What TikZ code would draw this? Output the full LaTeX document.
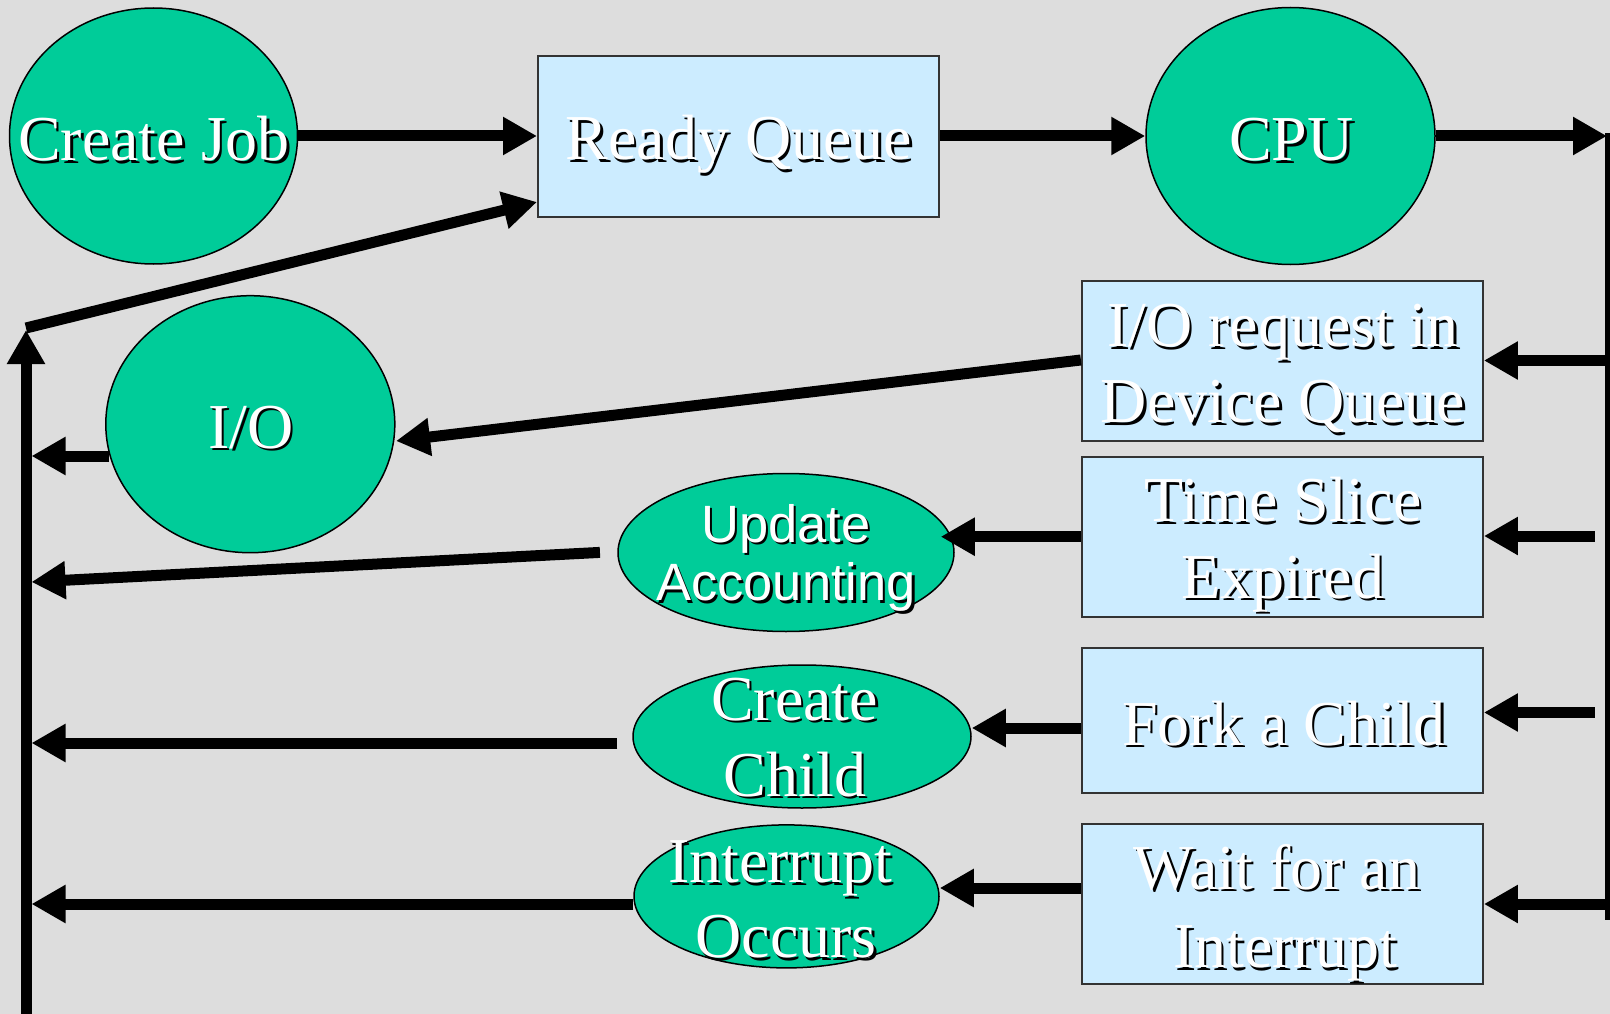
\documentclass[tikz,border=0pt]{standalone}
\usepackage{fontspec}
\setmainfont{Liberation Serif}
\newfontfamily\arialf{Liberation Sans}
\usetikzlibrary{arrows.meta,shapes.geometric,calc}
\definecolor{bgc}{HTML}{DDDDDD}
\definecolor{ovalc}{HTML}{00CC99}
\definecolor{boxc}{HTML}{CCECFF}
\definecolor{edgec}{HTML}{333333}
\newcommand\shtxt[1]{\rlap{\kern2.5pt\raisebox{-2.5pt}{\textcolor{black}{#1}}}\textcolor{white}{#1}}
\begin{document}
\begin{tikzpicture}[x=1pt,y=-1pt,
  oval/.style={ellipse, draw=black, line width=1.5pt, fill=ovalc, inner sep=0pt},
  qbox/.style={rectangle, draw=edgec, line width=2pt, fill=boxc, inner sep=0pt},
  lbl/.style={anchor=base, inner sep=0pt, font=\fontsize{64}{75}\selectfont},
  slbl/.style={anchor=base, inner sep=0pt, font=\arialf\fontsize{52.5}{60}\selectfont},
  arr/.style={line width=11pt, -{Triangle[length=34pt,width=36pt]}},
  ln/.style={line width=11pt}]
\fill[bgc] (0,0) rectangle (1610,1014);
\useasboundingbox (0,0) rectangle (1610,1014);

% shapes
\node[oval, minimum width=288pt, minimum height=256pt] (cj) at (153.5,136) {};
\node[qbox, minimum width=401pt, minimum height=161pt] (rq) at (738.5,136.5) {};
\node[oval, minimum width=289pt, minimum height=257pt] (cpu) at (1290.5,136) {};
\node[oval, minimum width=289pt, minimum height=257pt] (io) at (250.3,424.2) {};
\node[qbox, minimum width=401pt, minimum height=160pt] (iob) at (1282.4,360.7) {};
\node[qbox, minimum width=401pt, minimum height=160pt] (tsb) at (1282.4,536.7) {};
\node[qbox, minimum width=401pt, minimum height=145pt] (fkb) at (1282.4,720.4) {};
\node[qbox, minimum width=401pt, minimum height=160pt] (wtb) at (1282.4,904) {};
\node[oval, minimum width=336pt, minimum height=158pt] (ua) at (786,552.5) {};
\node[oval, minimum width=338pt, minimum height=143pt] (cc) at (802,736.5) {};
\node[oval, minimum width=305pt, minimum height=143pt] (ir) at (786.5,896.4) {};

% texts
\node[lbl] (cjT) at (154,160.7) {\shtxt{Create Job}};
\node[lbl] (rqT) at (739,160) {\shtxt{Ready Queue}};
\node[lbl] (cpuT) at (1291.5,160.7) {\shtxt{CPU}};
\node[lbl] (ioT) at (251,448.3) {\shtxt{I/O}};
\node[lbl] (iobT1) at (1283,346.7) {\shtxt{I/O request in}};
\node[lbl] (iobT2) at (1283,422.7) {\shtxt{Device Queue}};
\node[lbl] (tsbT1) at (1283,521.7) {\shtxt{Time Slice}};
\node[lbl] (tsbT2) at (1283,598.3) {\shtxt{Expired}};
\node[lbl] (fkbT) at (1284,745) {\shtxt{Fork a Child}};
\node[lbl] (wtbT1) at (1277,889.3) {\shtxt{Wait for an}};
\node[lbl] (wtbT2) at (1285,967.7) {\shtxt{Interrupt}};
\node[slbl] (uaT1) at (786,542.3) {\shtxt{Update}};
\node[slbl] (uaT2) at (786,600.5) {\shtxt{Accounting}};
\node[lbl] (ccT1) at (794.5,720.3) {\shtxt{Create}};
\node[lbl] (ccT2) at (795,796) {\shtxt{Child}};
\node[lbl] (irT1) at (780,882.5) {\shtxt{Interrupt}};
\node[lbl] (irT2) at (786,957.5) {\shtxt{Occurs}};

% free-end coordinates
\coordinate (rtip) at (1607,136);
\coordinate (vtop) at (1610,133);
\coordinate (vbot) at (1610,920);
\coordinate (lbot) at (26,1014);
\coordinate (ltop) at (26,330);
\coordinate (lstart) at (26,328);
\coordinate (lioin) at (31.5,456);
\coordinate (luain) at (31.5,582);
\coordinate (lccin) at (31.5,743);
\coordinate (lirin) at (31.5,904);
\coordinate (riob) at (1606,360.5);
\coordinate (rtsb) at (1594.5,536);
\coordinate (rfkb) at (1594.5,712.5);
\coordinate (rwtb) at (1606,904);

% top row
\draw[arr] (cj.east |- 0,136) -- (rq.west |- 0,136);
\draw[arr] (rq.east |- 0,136) -- (cpu.west |- 0,136);
\draw[arr] (cpu.east |- 0,136) -- (rtip);
\draw[ln] (vtop) -- (vbot);

% from the right line into the boxes
\draw[arr] (riob) -- (iob.east |- riob);
\draw[arr] (rtsb) -- (tsb.east |- rtsb);
\draw[arr] (rfkb) -- (fkb.east |- rfkb);
\draw[arr] (rwtb) -- (wtb.east |- rwtb);

% boxes to ovals
\draw[arr] (iob.west |- 0,360) -- ($(io.east)+(0.5,16.8)$);
\draw[arr] (tsb.west |- 0,536.7) -- ($(ua.east |- 0,536.7)+(-14,0)$);
\draw[arr] (fkb.west |- 0,728) -- (cc.east |- 0,728);
\draw[arr] (wtb.west |- 0,888) -- (ir.east |- 0,888);

% ovals to the left line
\draw[arr] ($(io.west |- 0,456)+(4,0)$) -- (lioin);
\draw[arr] ($(ua.west |- 0,552.4)+(-17.3,0)$) -- (luain);
\draw[arr] ($(cc.west |- 0,743)+(-15,0)$) -- (lccin);
\draw[arr] (ir.west |- 0,904) -- (lirin);

% left line back to ready queue
\draw[arr] (lbot) -- (ltop);
\draw[arr] (lstart) -- (rq.west |- 0,202);
\end{tikzpicture}
\end{document}
